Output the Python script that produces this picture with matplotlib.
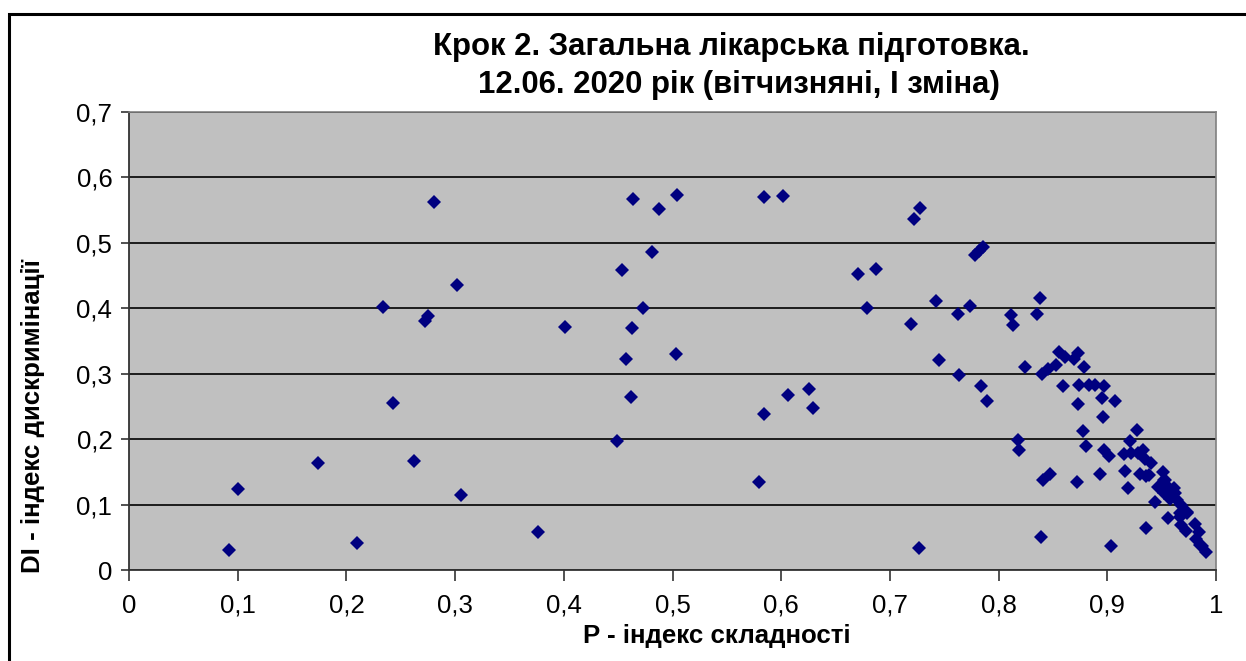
# Крок 2: P (індекс складності) проти DI (індекс дискримінації)
import matplotlib
matplotlib.use("Agg")
import matplotlib.pyplot as plt
from matplotlib.patches import Rectangle
from matplotlib.ticker import FuncFormatter, MultipleLocator

plt.rcParams["font.family"] = ["Liberation Sans", "DejaVu Sans"]

title_lines = ["Крок 2. Загальна лікарська підготовка.",
               "12.06. 2020 рік (вітчизняні, І зміна)"]
x_label = "P - індекс складності"
y_label = "DI - індекс дискримінації"

# значення
p_index = [
    0.092, 0.100, 0.174, 0.210, 0.234, 0.243, 0.262, 0.272, 0.275, 0.281,
    0.302, 0.305, 0.376, 0.401, 0.449, 0.454, 0.457, 0.462, 0.463, 0.464,
    0.473, 0.481, 0.488, 0.503, 0.504, 0.580, 0.584, 0.584, 0.602, 0.606,
    0.626, 0.629, 0.671, 0.679, 0.687, 0.719, 0.722, 0.727, 0.728, 0.742,
    0.745, 0.763, 0.764, 0.774, 0.778, 0.782, 0.784, 0.786, 0.789, 0.811,
    0.813, 0.818, 0.819, 0.824, 0.835, 0.838, 0.839, 0.840, 0.841, 0.845,
    0.847, 0.853, 0.856, 0.859, 0.861, 0.869, 0.872, 0.873, 0.873, 0.874,
    0.878, 0.879, 0.880, 0.883, 0.889, 0.893, 0.895, 0.896, 0.897, 0.897,
    0.902, 0.903, 0.907, 0.915, 0.916, 0.919, 0.921, 0.922, 0.927, 0.928,
    0.930, 0.933, 0.935, 0.936, 0.936, 0.938, 0.940, 0.944, 0.947, 0.949,
    0.951, 0.952, 0.952, 0.953, 0.956, 0.956, 0.958, 0.958, 0.958, 0.961,
    0.962, 0.964, 0.967, 0.967, 0.968, 0.968, 0.972, 0.973, 0.973, 0.981,
    0.982, 0.984, 0.985, 0.987, 0.991,
]
di_index = [
    0.030, 0.124, 0.163, 0.042, 0.402, 0.255, 0.167, 0.381, 0.388, 0.563,
    0.435, 0.114, 0.058, 0.372, 0.197, 0.458, 0.323, 0.264, 0.370, 0.567,
    0.401, 0.486, 0.552, 0.330, 0.573, 0.134, 0.238, 0.570, 0.572, 0.267,
    0.277, 0.247, 0.452, 0.401, 0.460, 0.376, 0.536, 0.033, 0.554, 0.411,
    0.321, 0.392, 0.298, 0.404, 0.481, 0.488, 0.281, 0.494, 0.259, 0.389,
    0.374, 0.198, 0.183, 0.310, 0.392, 0.415, 0.050, 0.299, 0.138, 0.307,
    0.146, 0.313, 0.333, 0.281, 0.325, 0.323, 0.134, 0.331, 0.253, 0.282,
    0.213, 0.310, 0.190, 0.282, 0.283, 0.146, 0.263, 0.234, 0.281, 0.183,
    0.175, 0.037, 0.258, 0.177, 0.152, 0.125, 0.197, 0.179, 0.214, 0.179,
    0.146, 0.183, 0.170, 0.064, 0.144, 0.145, 0.164, 0.104, 0.127, 0.127,
    0.150, 0.137, 0.117, 0.137, 0.127, 0.080, 0.114, 0.109, 0.122, 0.125,
    0.117, 0.107, 0.081, 0.087, 0.099, 0.069, 0.059, 0.087, 0.089, 0.071,
    0.048, 0.058, 0.038, 0.036, 0.028,
]

W, H = 1246, 661
fig = plt.figure(figsize=(W / 100, H / 100), dpi=100)
fig.patch.set_facecolor("white")

# рамка діаграми (виходить за праву та нижню межі)
fig.patches.append(Rectangle((9 / W, -0.05), 1.2, 1 - 14 / H + 0.05,
                             transform=fig.transFigure, fill=False,
                             edgecolor="black", linewidth=2.2))

ax = fig.add_axes([129 / W, 1 - 570 / H, (1216 - 129) / W, (570 - 112) / H])
ax.set_facecolor("#C0C0C0")
ax.set_xlim(0, 1)
ax.set_ylim(0, 0.7)
ax.xaxis.set_major_locator(MultipleLocator(0.1))
ax.yaxis.set_major_locator(MultipleLocator(0.1))

fmt = FuncFormatter(lambda v, _: ("%g" % round(v, 1)).replace(".", ","))
ax.xaxis.set_major_formatter(fmt)
ax.yaxis.set_major_formatter(fmt)

ax.grid(axis="y", color="black", linewidth=1.2)
ax.set_axisbelow(True)
ax.tick_params(axis="both", direction="out", labelsize=18.5, colors="#333333",
               labelcolor="black", width=1.2)
ax.tick_params(axis="x", length=8, pad=9)
ax.tick_params(axis="y", length=6, pad=6)

for side in ("left", "bottom"):
    ax.spines[side].set_color("#333333")
    ax.spines[side].set_linewidth(1.3)
for side in ("top", "right"):
    ax.spines[side].set_color("#808080")
    ax.spines[side].set_linewidth(1.2)

ax.plot(p_index, di_index, linestyle="none", marker="D", markersize=7,
        color="#000080", markeredgewidth=0, clip_on=False)

fig.text(731 / W, 1 - 47 / H, title_lines[0], ha="center", va="center",
         fontsize=22.4, fontweight="bold")
fig.text(739 / W, 1 - 85 / H, title_lines[1], ha="center", va="center",
         fontsize=22.4, fontweight="bold")
fig.text(717 / W, 1 - 636 / H, x_label, ha="center", va="center",
         fontsize=18.6, fontweight="bold")
fig.text(33 / W, 1 - 416 / H, y_label, ha="center", va="center",
         rotation=90, fontsize=18.6, fontweight="bold")

fig.savefig("out.png", dpi=100)
